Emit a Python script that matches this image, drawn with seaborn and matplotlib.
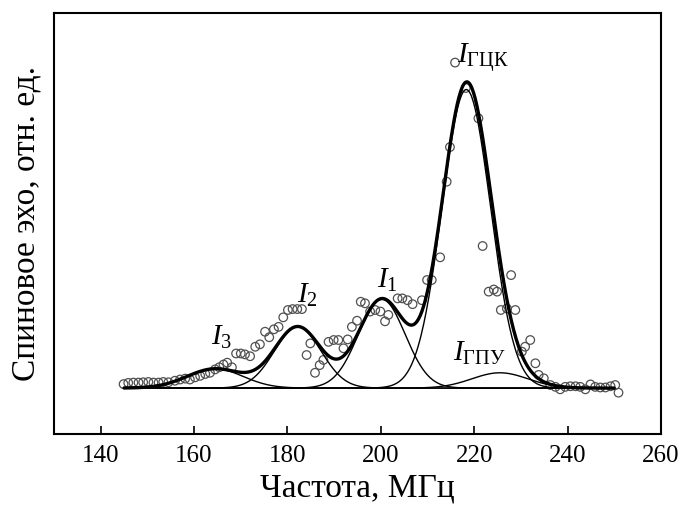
import numpy as np
import pandas as pd
import matplotlib
matplotlib.use("Agg")
import matplotlib.pyplot as plt
import seaborn as sns

# ---- measured spectrum (open circles) ----
freq = [144.9, 145.9, 147.0, 148.1, 149.1, 150.2, 151.3, 152.4, 153.4, 154.5,
        155.9, 157.0, 158.1, 159.1, 160.2, 161.3, 162.4, 163.4, 164.5, 165.4,
        166.3, 167.1, 168.1, 169.0, 170.0, 170.9, 172.0, 173.1, 174.1, 175.2,
        176.1, 177.1, 178.1, 179.1, 180.1, 181.1, 182.1, 183.1, 184.1, 184.9,
        185.9, 186.9, 187.7, 188.8, 189.9, 190.9, 192.0, 192.9, 193.8, 194.9,
        195.7, 196.6, 197.7, 198.8, 199.9, 200.9, 201.6, 203.6, 204.6, 205.7,
        206.8, 208.8, 209.9, 210.9, 212.7, 214.1, 214.8, 215.9, 218.2, 220.9,
        221.8, 223.1, 224.2, 224.9, 225.7, 227.0, 227.9, 228.8, 230.2, 230.9,
        232.0, 233.1, 233.8, 234.9, 236.3, 237.4, 238.4, 239.5, 240.6, 241.7,
        242.7, 243.8, 244.9, 245.9, 247.0, 248.1, 249.2, 250.2, 250.9]
echo = [0.013, 0.017, 0.018, 0.018, 0.019, 0.020, 0.018, 0.018, 0.020, 0.019,
        0.024, 0.028, 0.031, 0.028, 0.035, 0.040, 0.046, 0.050, 0.061, 0.068,
        0.077, 0.083, 0.068, 0.113, 0.113, 0.110, 0.104, 0.135, 0.143, 0.184,
        0.166, 0.192, 0.200, 0.231, 0.255, 0.258, 0.258, 0.258, 0.108, 0.146,
        0.050, 0.075, 0.092, 0.151, 0.157, 0.157, 0.130, 0.159, 0.200, 0.220,
        0.282, 0.277, 0.250, 0.255, 0.250, 0.218, 0.239, 0.293, 0.293, 0.287,
        0.274, 0.287, 0.353, 0.353, 0.427, 0.674, 0.787, 1.063, 0.980, 0.881,
        0.464, 0.315, 0.322, 0.315, 0.255, 0.260, 0.369, 0.255, 0.119, 0.135,
        0.157, 0.081, 0.043, 0.032, 0.010, 0.004, -0.004, 0.004, 0.006, 0.006,
        0.004, -0.004, 0.012, 0.004, 0.002, 0.002, 0.006, 0.010, -0.015]

# ---- Gaussian fit components ----
comp_names = ["I3", "I2", "I1", "IGCK", "IGPU"]
comp_centers = [164.5, 182.2, 200.2, 218.3, 225.5]
comp_amps = [0.063, 0.200, 0.290, 0.975, 0.050]
comp_sigmas = [6.0, 5.0, 5.0, 5.2, 6.0]
fit_range = [145.0, 250.0]

# ---- figure ----
sns.set_style("ticks")
plt.rcParams["font.family"] = ["Liberation Serif", "DejaVu Serif"]
plt.rcParams["mathtext.fontset"] = "custom"
plt.rcParams["mathtext.rm"] = "Liberation Serif"
plt.rcParams["mathtext.it"] = "Liberation Serif:italic"
plt.rcParams["text.color"] = "black"
plt.rcParams["axes.labelcolor"] = "black"
plt.rcParams["xtick.color"] = "black"
plt.rcParams["ytick.color"] = "black"

fig = plt.figure(figsize=(6.81, 5.09), dpi=100)
ax = fig.add_axes([0.0793, 0.1473, 0.8913, 0.8272])

xs = np.linspace(fit_range[0], fit_range[1], 600)
rows = []
total = np.zeros_like(xs)
for n, c, a, s in zip(comp_names, comp_centers, comp_amps, comp_sigmas):
    g = a * np.exp(-(xs - c) ** 2 / (2 * s ** 2))
    total += g
    rows.append(pd.DataFrame({"x": xs, "y": g, "comp": n}))
comp_df = pd.concat(rows, ignore_index=True)
sum_df = pd.DataFrame({"x": xs, "y": total})
pts_df = pd.DataFrame({"x": freq, "y": echo})

sns.scatterplot(data=pts_df, x="x", y="y", ax=ax, marker="o", s=38,
                facecolor="none", edgecolor="#505050", linewidth=0.9, zorder=2)
sns.lineplot(data=comp_df, x="x", y="y", units="comp", estimator=None,
             color="black", linewidth=1.0, ax=ax, zorder=3)
sns.lineplot(data=sum_df, x="x", y="y", color="black", linewidth=2.4,
             ax=ax, zorder=4)

ax.set_xlim(130, 260)
ax.set_ylim(-0.150, 1.225)
ax.set_xticks([140, 160, 180, 200, 220, 240, 260])
ax.set_yticks([])
ax.tick_params(axis="x", direction="in", length=6, width=1.2,
               labelsize=18, pad=8, top=False, colors="black")
for sp in ax.spines.values():
    sp.set_visible(True)
    sp.set_linewidth(1.5)
    sp.set_color("black")

ax.set_xlabel("Частота, МГц", fontsize=24, labelpad=4, color="black")
ax.set_ylabel("Спиновое эхо, отн. ед.", fontsize=24, labelpad=9, color="black")

lab_kw = dict(fontsize=21, ha="center", va="baseline", zorder=5, color="black")
ax.text(221.8, 1.062, r"$I_{\mathrm{ГЦК}}$", **lab_kw)
ax.text(201.5, 0.327, r"$I_{1}$", **lab_kw)
ax.text(184.3, 0.278, r"$I_{2}$", **lab_kw)
ax.text(165.8, 0.140, r"$I_{3}$", **lab_kw)
ax.text(221.2, 0.090, r"$I_{\mathrm{ГПУ}}$", **lab_kw)

fig.savefig("out.png", dpi=100)
